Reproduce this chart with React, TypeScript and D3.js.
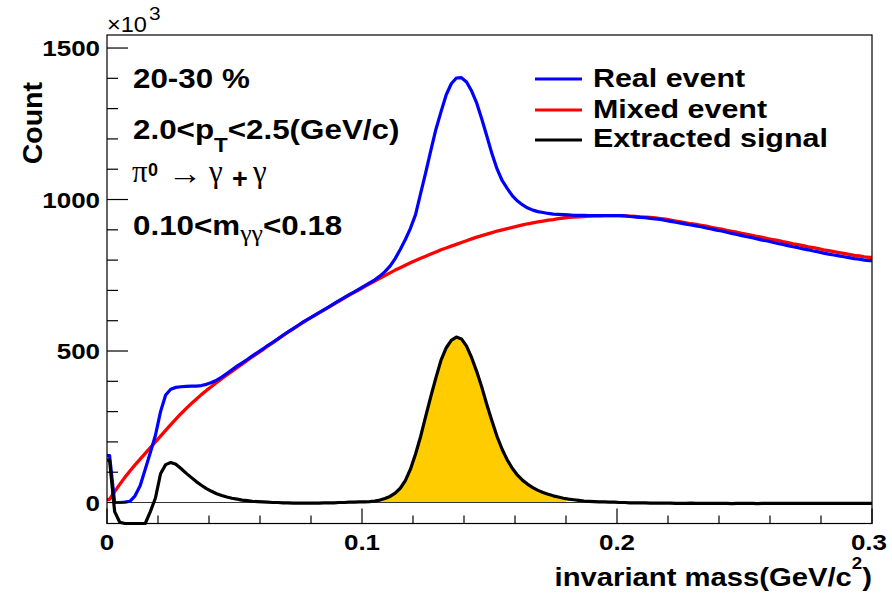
import React from 'react';
import * as d3 from 'd3';

// Histogram binning (uniform bins, 0.002 GeV/c^2 wide)
const MASS_MIN = 0;
const MASS_MAX = 0.3;
const N_BINS = 150;
const SIGNAL_WINDOW = [0.1, 0.18];

// Counts in units of 10^3 per bin
const realEvent = [
  155, 0, 0, 1, 4, 22, 55, 110, 165, 222,
  300, 355, 374, 380, 382, 383, 384, 384, 386, 390,
  396, 404, 414, 426, 438, 450, 461, 472, 484, 495,
  506, 518, 529, 540, 552, 563, 574, 585, 596, 606,
  616, 626, 636, 646, 656, 666, 676, 686, 695, 705,
  715, 725, 735, 747, 762, 780, 805, 835, 868, 905,
  950, 1020, 1090, 1162, 1232, 1290, 1345, 1382, 1401, 1402,
  1388, 1358, 1318, 1265, 1208, 1150, 1100, 1062, 1036, 1012,
  995, 982, 972, 965, 960, 957, 954, 952, 951, 950,
  949, 948, 948, 948, 947, 947, 947, 947, 947, 947,
  947, 946, 944, 943, 941, 940, 938, 936, 934, 931,
  928, 925, 922, 919, 916, 913, 910, 906, 903, 899,
  896, 892, 888, 885, 881, 877, 874, 870, 866, 863,
  859, 855, 852, 848, 844, 841, 837, 834, 830, 827,
  823, 820, 817, 814, 811, 808, 805, 803, 800, 798,
];

const mixedEvent = [
  10, 36, 60, 83, 104, 124, 143, 162, 181, 200,
  219, 238, 257, 275, 293, 310, 326, 341, 356, 370,
  383, 396, 409, 421, 433, 445, 457, 469, 481, 492,
  504, 516, 527, 539, 551, 562, 573, 584, 595, 605,
  615, 625, 635, 645, 655, 665, 675, 685, 694, 703,
  713, 722, 731, 740, 749, 758, 767, 775, 783, 791,
  799, 806, 813, 820, 827, 834, 840, 846, 852, 858,
  864, 870, 876, 881, 886, 891, 896, 900, 904, 908,
  912, 916, 920, 923, 926, 929, 932, 934, 937, 939,
  941, 942, 943, 944, 945, 946, 946, 947, 947, 947,
  947, 946, 945, 944, 943, 942, 941, 939, 937, 935,
  932, 929, 926, 923, 920, 918, 915, 912, 908, 905,
  902, 898, 895, 892, 888, 885, 882, 878, 875, 871,
  868, 865, 861, 858, 854, 851, 848, 844, 841, 838,
  834, 831, 828, 825, 822, 819, 816, 814, 811, 809,
];

const extractedSignal = [
  140, -30, -65, -88, -100, -104, -95, -72, -30, 15,
  95, 125, 132, 126, 112, 97, 83, 69, 57, 46,
  37, 29, 23, 18, 14, 11, 8, 6, 4, 3,
  2, 1, 0, 0, -1, -1, -2, -2, -2, -2,
  -2, -2, -1, -1, -1, 0, 0, 1, 1, 2,
  2, 3, 5, 8, 13, 20, 31, 47, 72, 110,
  160, 218, 285, 350, 412, 470, 510, 535, 546, 540,
  516, 478, 432, 380, 322, 268, 217, 175, 140, 112,
  90, 73, 60, 49, 40, 33, 27, 22, 18, 14,
  11, 9, 7, 5, 4, 3, 2, 2, 1, 1,
  0, 0, -1, -1, -1, -1, -2, -2, -2, -2,
  -2, -3, -3, -3, -2, -3, -3, -3, -3, -3,
  -3, -3, -4, -3, -3, -3, -3, -4, -3, -3,
  -3, -3, -3, -3, -3, -3, -3, -3, -3, -3,
  -3, -3, -3, -3, -3, -3, -3, -3, -3, -3,
];

const yMajorTicks = [0, 500, 1000, 1500];
const xMajorTicks = [0, 0.1, 0.2, 0.3];
const legendLabels = ['Real event', 'Mixed event', 'Extracted signal'];
const legendColors = ['#0000ff', '#ff0000', '#000000'];

const SANS = "'Liberation Sans', Arial, Helvetica, sans-serif";
const SERIF = "'Liberation Serif', 'DejaVu Serif', serif";

export default function App() {
  const W = 892;
  const H = 596;
  const x = d3.scaleLinear().domain([MASS_MIN, MASS_MAX]).range([107, 872]);
  const y = d3.scaleLinear().domain([-69.3, 1543]).range([523.5, 35]).clamp(true);
  const binW = (MASS_MAX - MASS_MIN) / N_BINS;
  const centers = d3.range(N_BINS).map((i) => MASS_MIN + (i + 0.5) * binW);

  const toPts = (vals: number[]): [number, number][] => [
    [MASS_MIN, vals[0]],
    ...centers.map((c, i) => [c, vals[i]] as [number, number]),
    [MASS_MAX, vals[vals.length - 1]],
  ];

  const line = d3
    .line<[number, number]>()
    .x((d) => x(d[0]))
    .y((d) => y(d[1]));

  const winIdx = centers
    .map((c, i) => i)
    .filter((i) => centers[i] >= SIGNAL_WINDOW[0] && centers[i] <= SIGNAL_WINDOW[1]);
  const fillPts: [number, number][] = [
    [SIGNAL_WINDOW[0], extractedSignal[winIdx[0]]],
    ...winIdx.map((i) => [centers[i], extractedSignal[i]] as [number, number]),
    [SIGNAL_WINDOW[1], extractedSignal[winIdx[winIdx.length - 1]]],
  ];
  const area = d3
    .area<[number, number]>()
    .x((d) => x(d[0]))
    .y0(y(0))
    .y1((d) => y(d[1]));

  const x0 = x.range()[0];
  const x1 = x.range()[1];
  const yBottom = y.range()[0];
  const yTop = y.range()[1];

  const yMinor = d3.range(0, 1501, 100);
  const xMinor = d3.range(0, 0.3001, 0.02);

  const sx = 1.17;

  return (
    <svg
      width={W}
      height={H}
      style={{ position: 'absolute', left: 0, top: 0, background: '#fff' }}
      fontFamily={SANS}
    >
      <rect x={0} y={0} width={W} height={H} fill="#fff" />

      {/* signal window fill */}
      <path d={area(fillPts) || ''} fill="#ffcc00" stroke="none" />

      {/* zero line */}
      <line x1={x0} x2={x1} y1={y(0)} y2={y(0)} stroke="#333" strokeWidth={1} />

      {/* histograms */}
      <path d={line(toPts(mixedEvent)) || ''} fill="none" stroke="#ff0000" strokeWidth={3.3} strokeLinejoin="round" />
      <path d={line(toPts(realEvent)) || ''} fill="none" stroke="#0000ff" strokeWidth={3.2} strokeLinejoin="round" />
      <path d={line(toPts(extractedSignal)) || ''} fill="none" stroke="#000000" strokeWidth={3.2} strokeLinejoin="round" />

      {/* frame */}
      <rect x={x0} y={yTop} width={x1 - x0} height={yBottom - yTop} fill="none" stroke="#000" strokeWidth={1.2} />

      {/* y ticks */}
      {yMinor.map((v) => (
        <line
          key={'ym' + v}
          x1={x0}
          x2={x0 + (v % 500 === 0 ? 21 : 11)}
          y1={y(v)}
          y2={y(v)}
          stroke="#000"
          strokeWidth={1.2}
        />
      ))}
      {yMajorTicks.map((v) => (
        <text
          key={'yl' + v}
          transform={`translate(100,${y(v) + 8}) scale(1.18,1)`}
          textAnchor="end"
          fontSize={22}
          fontWeight="bold"
        >
          {String(v)}
        </text>
      ))}

      {/* x ticks */}
      {xMinor.map((v, i) => (
        <line
          key={'xm' + i}
          x1={x(v)}
          x2={x(v)}
          y1={yBottom}
          y2={yBottom - (i % 5 === 0 ? 15 : 8)}
          stroke="#000"
          strokeWidth={1.2}
        />
      ))}
      {xMajorTicks.map((v, i) => {
        const last = i === xMajorTicks.length - 1;
        return (
          <text
            key={'xl' + v}
            transform={`translate(${last ? 887 : x(v)},550) scale(1.18,1)`}
            textAnchor={last ? 'end' : 'middle'}
            fontSize={22}
            fontWeight="bold"
          >
            {String(v)}
          </text>
        );
      })}

      {/* exponent */}
      <text transform="translate(107,32) scale(1.07,1)" fontSize={22}>
        ×10
      </text>
      <text transform="translate(149,20) scale(1.1,1)" fontSize={19}>
        3
      </text>

      {/* axis titles */}
      <text
        transform="translate(42,82) rotate(-90)"
        textAnchor="end"
        fontSize={28.5}
        fontWeight="bold"
      >
        Count
      </text>
      <text
        transform={`translate(872,586) scale(${sx},1)`}
        textAnchor="end"
        fontSize={25}
        fontWeight="bold"
      >
        invariant mass(GeV/c
        <tspan fontSize={16} dy={-17}>
          2
        </tspan>
        <tspan dy={17}>)</tspan>
      </text>

      {/* annotations */}
      <text transform="translate(133,88) scale(1.12,1)" fontSize={28} fontWeight="bold">
        20-30 %
      </text>
      <text transform="translate(133,139) scale(1.12,1)" fontSize={28} fontWeight="bold">
        2.0&lt;p
        <tspan fontSize={20} dy={12.7}>
          T
        </tspan>
        <tspan dy={-12.7}>&lt;2.5(GeV/c)</tspan>
      </text>
      <g>
        <text x={132} y={182} fontFamily={SERIF} fontSize={31}>
          π
        </text>
        <text x={148} y={176} fontSize={18} fontWeight="bold">
          0
        </text>
        <text transform="translate(168,184) scale(1.08,1)" fontFamily={SERIF} fontSize={32}>
          →
        </text>
        <text x={209} y={182} fontFamily={SERIF} fontSize={31}>
          γ
        </text>
        <text x={232} y={188} fontSize={27} fontWeight="bold">
          +
        </text>
        <text x={253} y={182} fontFamily={SERIF} fontSize={31}>
          γ
        </text>
      </g>
      <text transform="translate(133,235) scale(1.12,1)" fontSize={28} fontWeight="bold">
        0.10&lt;m
        <tspan fontFamily={SERIF} fontWeight="normal" fontSize={23} dy={6}>
          γγ
        </tspan>
        <tspan dy={-6}>&lt;0.18</tspan>
      </text>

      {/* legend */}
      {legendLabels.map((lab, i) => {
        const ly = [79, 110, 140][i];
        const ty = [87, 118, 147][i];
        return (
          <g key={lab}>
            <line x1={535} x2={582} y1={ly} y2={ly} stroke={legendColors[i]} strokeWidth={3} />
            <text transform={`translate(593,${ty}) scale(${sx},1)`} fontSize={26} fontWeight="bold">
              {lab}
            </text>
          </g>
        );
      })}
    </svg>
  );
}
